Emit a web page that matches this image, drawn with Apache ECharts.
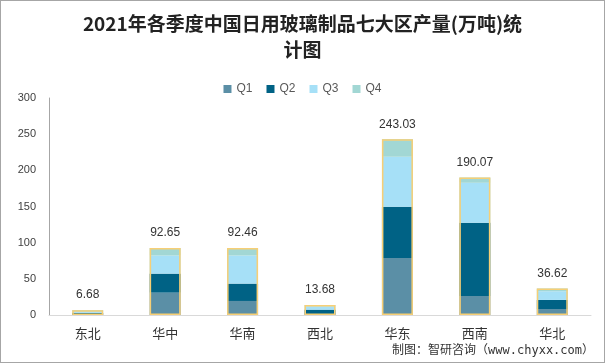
<!DOCTYPE html>
<html>
<head>
<meta charset="utf-8">
<script src="https://cdn.jsdelivr.net/npm/echarts@6/dist/echarts.min.js"></script>
<style>
html,body{margin:0;padding:0;background:#fff;}
#c{width:605px;height:363px;box-sizing:border-box;border:1px solid #a6a6a6;}
</style>
</head>
<body>
<div id="c"></div>
<script>
var categories = ['东北','华中','华南','西北','华东','西南','华北'];
var q1 = [0.3, 30.9, 19.4, 0.5, 78.9, 26.3, 8.3];
var q2 = [2.6, 26.3, 24.0, 6.9, 70.6, 101.1, 12.5];
var q3 = [2.6, 25.0, 38.8, 4.6, 69.3, 55.4, 12.0];
var q4 = [1.18, 10.45, 10.26, 1.68, 24.23, 7.27, 3.82];
var totals = [6.68, 92.65, 92.46, 13.68, 243.03, 190.07, 36.62];
var yTicks = [0, 50, 100, 150, 200, 250, 300];

var chart = echarts.init(document.getElementById('c'));
function seg(name, data, color) {
  return {
    name: name, type: 'bar', stack: 'total', data: data, barWidth: 31,
    itemStyle: {color: color}, z: 2
  };
}
chart.setOption({
  animation: false,
  graphic: [{
    type: 'text', left: 'center', top: 10,
    style: {
      text: '2021年各季度中国日用玻璃制品七大区产量(万吨)统\n计图',
      font: 'bold 19px "Noto Sans CJK SC", serif',
      fill: '#222', textAlign: 'center', lineHeight: 26
    }
  }, {
    type: 'text', right: 10, top: 344,
    style: {
      text: '制图：智研咨询（www.chyxx.com）',
      font: '12px "DejaVu Sans Mono", "Noto Sans CJK SC"',
      fill: '#333'
    }
  }],
  legend: {
    data: ['Q1','Q2','Q3','Q4'], top: 77, left: 'center',
    itemWidth: 8, itemHeight: 8, itemGap: 14, icon: 'rect',
    textStyle: {color: '#595959', fontSize: 12, fontFamily: 'Liberation Sans, Arial'}
  },
  grid: {left: 48, right: 13, top: 97, bottom: 47},
  xAxis: {
    type: 'category', data: categories,
    axisLine: {lineStyle: {color: '#d9d9d9'}},
    axisTick: {show: false},
    axisLabel: {color: '#333', fontSize: 13, margin: 12, fontFamily: '"Noto Sans CJK SC"'}
  },
  yAxis: {
    type: 'value', min: yTicks[0], max: yTicks[yTicks.length-1], interval: 50,
    axisLine: {show: true, lineStyle: {color: '#a6a6a6'}},
    axisTick: {show: false},
    splitLine: {show: false},
    axisLabel: {color: '#404040', fontSize: 11, margin: 13, fontFamily: 'Liberation Sans, Arial'}
  },
  series: [
    seg('Q1', q1, '#5b8fa6'),
    seg('Q2', q2, '#006285'),
    seg('Q3', q3, '#a6e0f7'),
    seg('Q4', q4, '#a2d7d4'),
    {
      name: '合计', type: 'bar', data: totals, barWidth: 31, barGap: '-100%', z: 5,
      itemStyle: {color: 'rgba(0,0,0,0)', borderColor: '#f7cf75', borderWidth: 1.5},
      label: {show: true, position: 'top', distance: 9, color: '#333', fontSize: 12,
        fontFamily: 'Liberation Sans, Arial',
        formatter: function(p){ return p.value.toFixed(2); }}
    }
  ]
});
</script>
</body>
</html>
